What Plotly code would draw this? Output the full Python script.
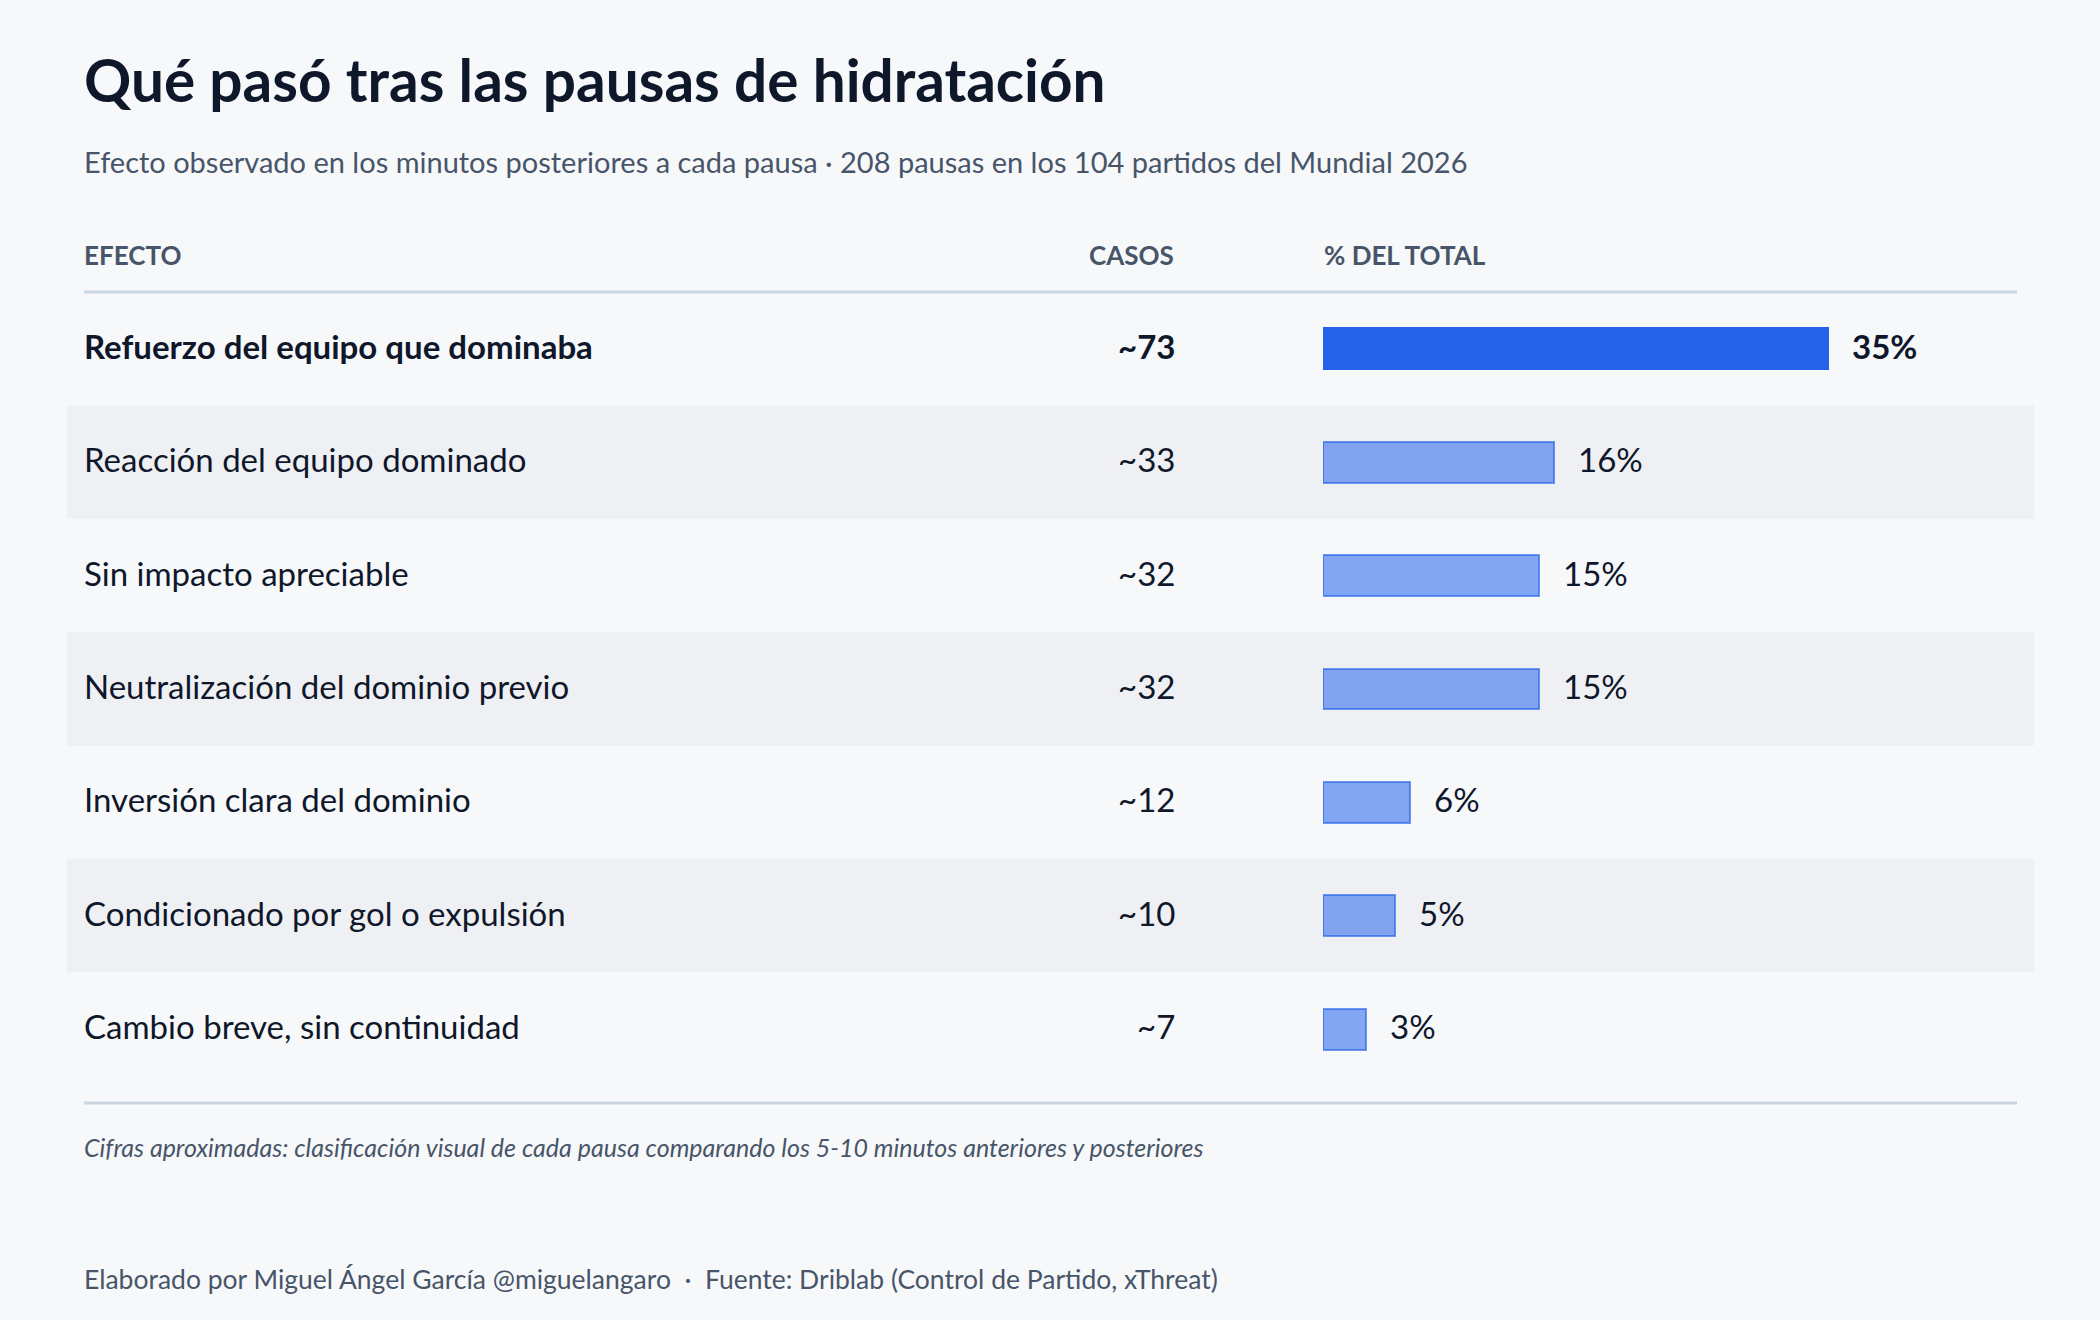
import plotly.graph_objects as go

# ---- data ----
efectos = [
    "Refuerzo del equipo que dominaba",
    "Reacción del equipo dominado",
    "Sin impacto apreciable",
    "Neutralización del dominio previo",
    "Inversión clara del dominio",
    "Condicionado por gol o expulsión",
    "Cambio breve, sin continuidad",
]
casos = ["~73", "~33", "~32", "~32", "~12", "~10", "~7"]
porcentajes = [35, 16, 15, 15, 6, 5, 3]

W, H = 2100, 1320
BG = "#f7f8fa"
BAND = "#eff0f4"
DARK = "#0f172a"
SLATE = "#475569"
FONT = "Lato"

px = lambda v: v / W
py = lambda v: 1 - v / H

n = len(efectos)
ypos = list(range(n))

fill_colors = ["#2563eb"] + ["rgba(37,99,235,0.55)"] * (n - 1)
line_colors = ["#2563eb"] + ["rgba(37,99,235,0.65)"] * (n - 1)

fig = go.Figure()
fig.add_trace(go.Bar(
    x=porcentajes, y=ypos, orientation="h", width=0.36,
    marker=dict(color=fill_colors, line=dict(color=line_colors, width=2)),
    hoverinfo="skip", showlegend=False,
))

# axis geometry: bars start at x=1323px, 14.43 px per %
x0, x1 = 1323, 2017
xr = (x1 - x0) / 14.43
row_top, row_bot = 292, 1086

shapes = []
for i in range(n):
    if i % 2 == 1:
        shapes.append(dict(type="rect", xref="paper", yref="y",
                           x0=px(67), x1=px(2034), y0=i - 0.5, y1=i + 0.5,
                           fillcolor=BAND, line=dict(width=0), layer="below"))
shapes.append(dict(type="line", xref="paper", yref="paper",
                   x0=px(84), x1=px(2017), y0=py(292), y1=py(292),
                   line=dict(color="#cbd5e1", width=3)))
shapes.append(dict(type="line", xref="paper", yref="paper",
                   x0=px(84), x1=px(2017), y0=py(1103), y1=py(1103),
                   line=dict(color="#cbd5e1", width=3)))

ann = []
def text(x, y, s, size, color=DARK, anchor="left", yanchor="middle", **kw):
    ann.append(dict(x=x, y=y, text=s, showarrow=False, xanchor=anchor,
                    yanchor=yanchor, font=dict(family=FONT, size=size, color=color), **kw))

LX = px(82)
# title/subtitle
text(LX, py(79), "<b>Qué pasó tras las pausas de hidratación</b>", 58.5, DARK, xref="paper", yref="paper")
text(LX, py(162), "Efecto observado en los minutos posteriores a cada pausa · 208 pausas en los 104 partidos del Mundial 2026",
     29, SLATE, xref="paper", yref="paper")
# headers
text(LX, py(255), "<b>EFECTO</b>", 26, SLATE, xref="paper", yref="paper")
text(px(1176), py(255), "<b>CASOS</b>", 26, SLATE, anchor="right", xref="paper", yref="paper")
text(px(1322), py(255), "<b>% DEL TOTAL</b>", 26, SLATE, xref="paper", yref="paper")

for i, (e, c, p) in enumerate(zip(efectos, casos, porcentajes)):
    bold = i == 0
    fmt = (lambda s: f"<b>{s}</b>") if bold else (lambda s: s)
    text(LX, i, fmt(e), 33, DARK, xref="paper", yref="y", yshift=3)
    text(px(1177), i, fmt(c), 33, DARK, anchor="right", xref="paper", yref="y", yshift=3)
    text(p, i, fmt(f"{p}%"), 33, DARK, xref="x", yref="y", xshift=22, yshift=3)

text(LX, py(1147), "<i>Cifras aproximadas: clasificación visual de cada pausa comparando los 5-10 minutos anteriores y posteriores</i>",
     25, SLATE, xref="paper", yref="paper")
text(LX, py(1279), "Elaborado por Miguel Ángel García @miguelangaro  ·  Fuente: Driblab (Control de Partido, xThreat)",
     26.5, SLATE, xref="paper", yref="paper")

fig.update_layout(
    width=W, height=H, margin=dict(l=0, r=0, t=0, b=0),
    paper_bgcolor=BG, plot_bgcolor="rgba(0,0,0,0)",
    xaxis=dict(domain=[px(x0), px(x1)], range=[0, xr], visible=False, fixedrange=True),
    yaxis=dict(domain=[py(row_bot), py(row_top)], range=[n - 0.5, -0.5], visible=False, fixedrange=True),
    shapes=shapes, annotations=ann, bargap=0,
    font=dict(family=FONT),
)

fig.write_html("out.html", config={"displayModeBar": False})
